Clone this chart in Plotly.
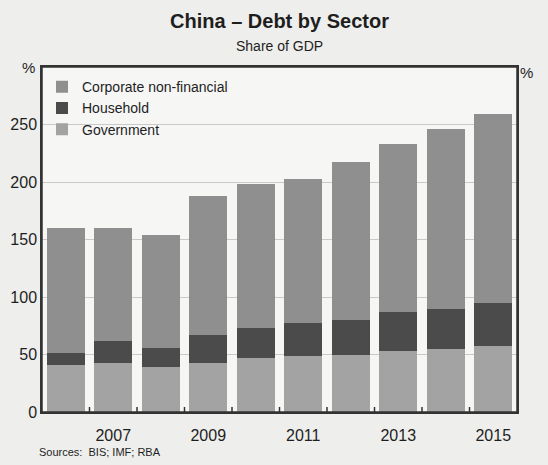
import plotly.graph_objects as go

# Debt by sector, per cent of GDP
years = [2006, 2007, 2008, 2009, 2010, 2011, 2012, 2013, 2014, 2015]
government = [41, 43, 39, 43, 47, 49, 50, 53, 55, 57]
household = [10, 19, 17, 24, 26, 28, 30, 34, 35, 38]
corporate = [109, 98, 98, 121, 125, 126, 137, 146, 156, 164]

label_years = [2007, 2009, 2011, 2013, 2015]
boundaries = [y + 0.5 for y in years[:-1]]
y_ticks = [0, 50, 100, 150, 200, 250]

FONT = "Liberation Sans, Arial, sans-serif"
INK = "#1e1e1e"
AXIS = "#333333"
X_RANGE = [years[0] - 0.5, years[-1] + 0.5]
Y_RANGE = [0, 300]
PLOT_H = 465 - 67 - 53

fig = go.Figure()
fig.add_trace(go.Bar(x=years, y=government, name="Government",
                     marker=dict(color="#a3a3a3", line=dict(width=0)), width=0.8))
fig.add_trace(go.Bar(x=years, y=household, name="Household",
                     marker=dict(color="#4b4b4b", line=dict(width=0)), width=0.8))
fig.add_trace(go.Bar(x=years, y=corporate, name="Corporate non-financial",
                     marker=dict(color="#8f8f8f", line=dict(width=0)), width=0.8))

fig.update_layout(
    width=548, height=465,
    margin=dict(l=42, r=31, t=67, b=53),
    barmode="stack",
    paper_bgcolor="#eeeeec",
    plot_bgcolor="#f6f6f5",
    font=dict(family=FONT, color=INK, size=16),
    title=dict(text="<b>China – Debt by Sector</b>", x=0.5, xref="paper",
               xanchor="center", y=0.955, yanchor="middle",
               font=dict(family=FONT, size=20, color=INK)),
    showlegend=True,
    legend=dict(x=0.0, y=0.988, xanchor="left", yanchor="top",
                traceorder="reversed", bgcolor="rgba(0,0,0,0)",
                font=dict(family=FONT, size=14, color=INK),
                itemwidth=30, tracegroupgap=0),
    xaxis=dict(range=X_RANGE, tickmode="array",
               tickvals=label_years, ticktext=[str(y) for y in label_years],
               ticks="outside", ticklen=8, tickcolor="rgba(0,0,0,0)",
               showgrid=False, zeroline=False,
               showline=True, linecolor=AXIS, linewidth=1.5, mirror=True,
               automargin=False,
               tickfont=dict(family=FONT, size=16, color=INK)),
    yaxis=dict(range=Y_RANGE, tickmode="array", tickvals=y_ticks,
               ticks="", showgrid=True, gridcolor="#c9c9c9", gridwidth=1,
               zeroline=False, showline=True, linecolor=AXIS, linewidth=1.5,
               mirror=True, automargin=False,
               tickfont=dict(family=FONT, size=16, color=INK)),
    yaxis2=dict(range=Y_RANGE, tickmode="array", tickvals=y_ticks,
                overlaying="y", side="right", anchor="x",
                ticks="", showgrid=False, zeroline=False, showline=False,
                automargin=False,
                tickfont=dict(family=FONT, size=16, color=INK)),
)

# frame around the plotting area
fig.add_shape(type="rect", xref="paper", yref="paper", x0=0, x1=1, y0=0, y1=1,
              line=dict(color=AXIS, width=1.5), fillcolor="rgba(0,0,0,0)",
              layer="above")
# short upward ticks on the baseline separating the years
for b in boundaries:
    fig.add_shape(type="line", xref="x", yref="paper", x0=b, x1=b,
                  y0=0, y1=5 / PLOT_H, line=dict(color=AXIS, width=1.5),
                  layer="above")

fig.add_annotation(text="Share of GDP", xref="paper", yref="paper", x=0.5,
                   y=1.0 + 21 / PLOT_H, xanchor="center", yanchor="middle",
                   showarrow=False, font=dict(family=FONT, size=14, color=INK))
fig.add_annotation(text="%", xref="paper", yref="paper", x=-0.01, y=1.0,
                   xanchor="right", yanchor="middle", showarrow=False,
                   font=dict(family=FONT, size=15, color=INK))
fig.add_annotation(text="%", xref="paper", yref="paper", x=1.003, y=0.985,
                   xanchor="left", yanchor="middle", showarrow=False,
                   font=dict(family=FONT, size=15, color=INK))
fig.add_annotation(text="Sources:  BIS; IMF; RBA", xref="paper", yref="paper",
                   x=-0.01, y=-40 / PLOT_H, xanchor="left", yanchor="middle",
                   showarrow=False, font=dict(family=FONT, size=11, color=INK))

fig.write_html("out.html")
